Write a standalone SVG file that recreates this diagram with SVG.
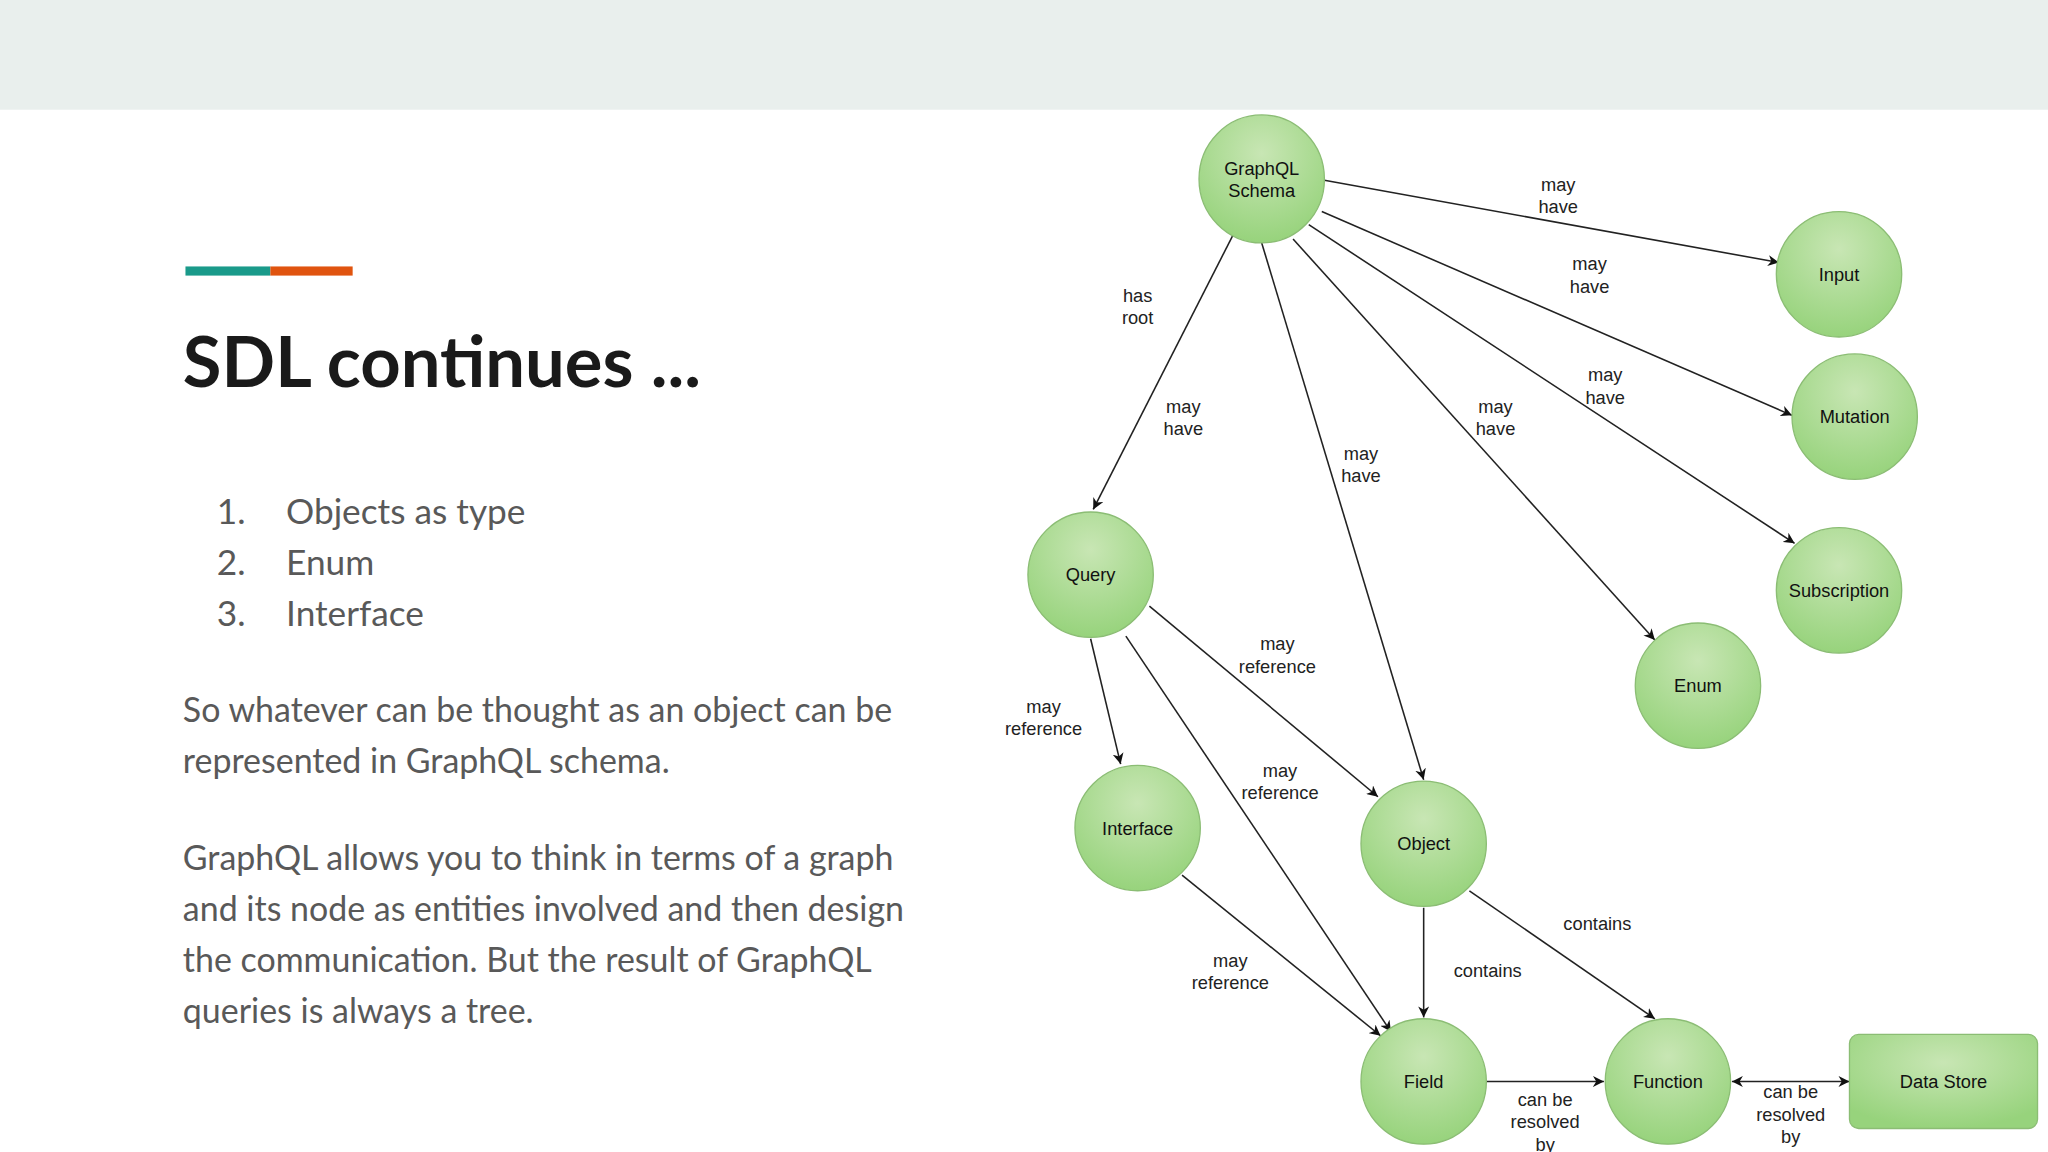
<svg xmlns="http://www.w3.org/2000/svg" width="2048" height="1152" viewBox="0 0 2048 1152">
<defs>
<marker id="ah" viewBox="0 0 10 10" refX="10" refY="5" markerWidth="7" markerHeight="7" orient="auto-start-reverse"><path d="M0,0 L10,5 L0,10 L3,5 z" fill="#111"/></marker>
<radialGradient id="g" cx="0.5" cy="0.3" r="0.7"><stop offset="0" stop-color="#c8e6b4"/><stop offset="1" stop-color="#97d37c"/></radialGradient>
</defs>
<style>
.n{fill:url(#g);stroke:#8bbd74;stroke-width:1}
.t{font-family:"Liberation Sans",Arial,sans-serif;font-size:14px;fill:#111;text-anchor:middle}
.l{font-family:"Liberation Sans",Arial,sans-serif;font-size:14px;fill:#222;text-anchor:middle}
.e{stroke:#222;stroke-width:1.2;fill:none;marker-end:url(#ah)}
.b{font-family:Lato,"Open Sans",sans-serif;fill:#595959}
</style>
<rect width="2048" height="1152" fill="#fff"/>
<g transform="scale(1.30612)">
<rect x="0" y="0" width="1568" height="84" fill="#e9efed"/>
<rect x="142" y="204" width="65" height="7" fill="#1a9a8a"/>
<rect x="207" y="204" width="63" height="7" fill="#e0540f"/>
<text x="140" y="296" font-family="Lato,'Open Sans',sans-serif" font-weight="bold" font-size="54" fill="#1a1a1a">SDL continues ...</text>
<g class="b" font-size="27">
<text x="166" y="401">1.</text><text x="219" y="401">Objects as type</text>
<text x="166" y="440">2.</text><text x="219" y="440">Enum</text>
<text x="166" y="479">3.</text><text x="219" y="479">Interface</text>
</g>
<g class="b" font-size="26">
<text x="140" y="553">So whatever can be thought as an object can be</text>
<text x="140" y="592">represented in GraphQL schema.</text>
<text x="140" y="666">GraphQL allows you to think in terms of a graph</text>
<text x="140" y="705">and its node as entities involved and then design</text>
<text x="140" y="744">the communication. But the result of GraphQL</text>
<text x="140" y="783">queries is always a tree.</text>
</g>
<g id="connectors">
<line class="e" x1="1014" y1="138" x2="1362" y2="201"/>
<line class="e" x1="1012" y1="162" x2="1372" y2="318"/>
<line class="e" x1="1002" y1="172" x2="1374" y2="416"/>
<line class="e" x1="990" y1="183" x2="1267" y2="490"/>
<line class="e" x1="966" y1="186" x2="1090" y2="597"/>
<line class="e" x1="944" y1="180" x2="837" y2="390"/>
<line class="e" x1="835" y1="489" x2="858" y2="585"/>
<line class="e" x1="880" y1="464" x2="1055" y2="610"/>
<line class="e" x1="862" y1="487" x2="1065" y2="790"/>
<line class="e" x1="905" y1="670" x2="1057" y2="793"/>
<line class="e" x1="1090" y1="695" x2="1090" y2="779"/>
<line class="e" x1="1125" y1="682" x2="1267" y2="780"/>
<line class="e" x1="1138" y1="828" x2="1228" y2="828"/>
<line class="e" x1="1326" y1="828" x2="1416" y2="828" marker-start="url(#ah)"/>
<text class="l" x="1193" y="146">may</text><text class="l" x="1193" y="163">have</text>
<text class="l" x="1217" y="207">may</text><text class="l" x="1217" y="224">have</text>
<text class="l" x="1229" y="292">may</text><text class="l" x="1229" y="309">have</text>
<text class="l" x="1145" y="316">may</text><text class="l" x="1145" y="333">have</text>
<text class="l" x="1042" y="352">may</text><text class="l" x="1042" y="369">have</text>
<text class="l" x="871" y="231">has</text><text class="l" x="871" y="248">root</text>
<text class="l" x="906" y="316">may</text><text class="l" x="906" y="333">have</text>
<text class="l" x="978" y="498">may</text><text class="l" x="978" y="515">reference</text>
<text class="l" x="799" y="546">may</text><text class="l" x="799" y="563">reference</text>
<text class="l" x="980" y="595">may</text><text class="l" x="980" y="612">reference</text>
<text class="l" x="942" y="740">may</text><text class="l" x="942" y="757">reference</text>
<text class="l" x="1223" y="712">contains</text>
<text class="l" x="1139" y="748">contains</text>
<text class="l" x="1183" y="847">can be</text><text class="l" x="1183" y="864">resolved</text><text class="l" x="1183" y="881">by</text>
<text class="l" x="1371" y="841">can be</text><text class="l" x="1371" y="858">resolved</text><text class="l" x="1371" y="875">by</text>
</g>
<g id="schema"><ellipse class="n" cx="966" cy="137" rx="48" ry="49"/><text class="t" x="966" y="134">GraphQL</text><text class="t" x="966" y="151">Schema</text></g>
<g id="input"><circle class="n" cx="1408" cy="210" r="48"/><text class="t" x="1408" y="215">Input</text></g>
<g id="mutation"><circle class="n" cx="1420" cy="319" r="48"/><text class="t" x="1420" y="324">Mutation</text></g>
<g id="subscription"><circle class="n" cx="1408" cy="452" r="48"/><text class="t" x="1408" y="457">Subscription</text></g>
<g id="enum"><circle class="n" cx="1300" cy="525" r="48"/><text class="t" x="1300" y="530">Enum</text></g>
<g id="query"><circle class="n" cx="835" cy="440" r="48"/><text class="t" x="835" y="445">Query</text></g>
<g id="interface"><circle class="n" cx="871" cy="634" r="48"/><text class="t" x="871" y="639">Interface</text></g>
<g id="object"><circle class="n" cx="1090" cy="646" r="48"/><text class="t" x="1090" y="651">Object</text></g>
<g id="field"><circle class="n" cx="1090" cy="828" r="48"/><text class="t" x="1090" y="833">Field</text></g>
<g id="function"><circle class="n" cx="1277" cy="828" r="48"/><text class="t" x="1277" y="833">Function</text></g>
<g id="datastore"><rect class="n" x="1416" y="792" width="144" height="72" rx="7"/><text class="t" x="1488" y="833">Data Store</text></g>
</g>
</svg>
